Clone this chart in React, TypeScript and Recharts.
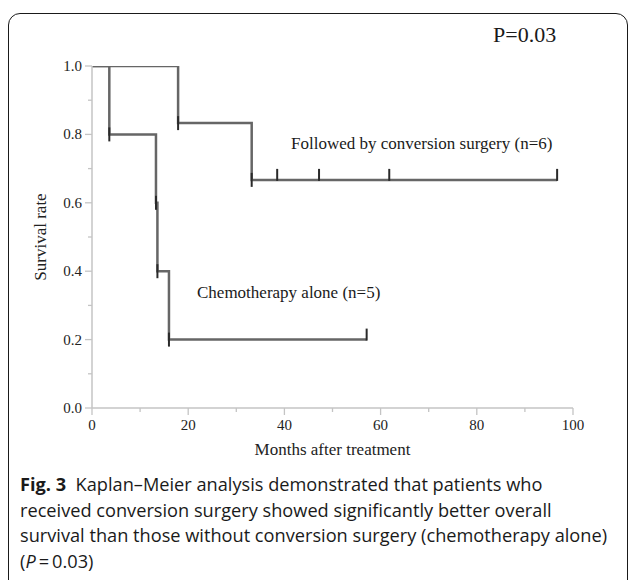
import { ComposedChart, Line, Scatter, XAxis, YAxis, Label } from "recharts";

// Kaplan-Meier step points (months, survival)
const chemoMonths = [0, 3.6, 13.3, 13.6, 16.0, 57.1];
const chemoSurvival = [1.0, 0.8, 0.6, 0.4, 0.2, 0.2];
const chemoStepMarks = [3.6, 13.3, 13.6, 16.0];
const chemoCensored = [57.1];

const surgeryMonths = [0, 17.9, 33.2, 96.7];
const surgerySurvival = [1.0, 0.833, 0.667, 0.667];
const surgeryStepMarks = [17.9, 33.2];
const surgeryCensored = [38.5, 47.2, 61.8, 96.7];

const xTicks = [0, 10, 20, 30, 40, 50, 60, 70, 80, 90, 100];
const yTicks = [0, 0.1, 0.2, 0.3, 0.4, 0.5, 0.6, 0.7, 0.8, 0.9, 1.0];

const chemoData = chemoMonths.map((t, i) => ({ t, s: chemoSurvival[i] }));
const surgeryData = surgeryMonths.map((t, i) => ({ t, s: surgerySurvival[i] }));

// survival value of a step curve at a given month
const survivalAt = (months: number[], surv: number[], t: number) => {
  let v = surv[0];
  months.forEach((m, i) => {
    if (m <= t) v = surv[i];
  });
  return v;
};

const marks = (times: number[], months: number[], surv: number[]) =>
  times.map((t) => ({ t, s: survivalAt(months, surv, t) }));

const serif = "'Liberation Serif', 'DejaVu Serif', serif";
const axisGrey = "#c4c4c4";
const curveGrey = "#666666";
const markColor = "#2a2a2a";

const XTick = (props: any) => {
  const { x, y, payload } = props;
  const major = Math.round(payload.value) % 20 === 0;
  return (
    <g>
      <line x1={x} x2={x} y1={y} y2={y + (major ? 7 : 4)} stroke={axisGrey} strokeWidth={1.3} />
      {major && (
        <text x={x} y={y + 22} textAnchor="middle" fontFamily={serif} fontSize={15} fill="#222">
          {payload.value}
        </text>
      )}
    </g>
  );
};

const YTick = (props: any) => {
  const { x, y, payload } = props;
  const major = Math.round(payload.value * 10) % 2 === 0;
  return (
    <g>
      <line x1={x} x2={x - (major ? 7 : 4)} y1={y} y2={y} stroke={axisGrey} strokeWidth={1.3} />
      {major && (
        <text x={x - 10} y={y + 5} textAnchor="end" fontFamily={serif} fontSize={15} fill="#222">
          {payload.value.toFixed(1)}
        </text>
      )}
    </g>
  );
};

const StepMark = (p: any) => (
  <line x1={p.cx} x2={p.cx} y1={p.cy - 7} y2={p.cy + 7} stroke={markColor} strokeWidth={2} />
);

const CensorMark = (p: any) => (
  <line x1={p.cx} x2={p.cx} y1={p.cy - 11} y2={p.cy + 1} stroke={markColor} strokeWidth={2} />
);

export default function App() {
  return (
    <div
      style={{
        position: "absolute",
        left: 0,
        top: 0,
        width: 629,
        height: 580,
        overflow: "hidden",
        background: "#fff",
      }}
    >
      <div
        style={{
          position: "absolute",
          left: 8,
          top: 13,
          width: 620,
          height: 640,
          border: "1.5px solid #1a1a1a",
          borderRadius: 12,
          boxSizing: "border-box",
        }}
      />
      <div
        style={{
          position: "absolute",
          left: 493,
          top: 22,
          fontFamily: serif,
          fontSize: 22,
          color: "#1a1a1a",
          whiteSpace: "nowrap",
        }}
      >
        P=0.03
      </div>

      <div style={{ position: "absolute", left: 0, top: 0 }}>
        <ComposedChart
          width={629}
          height={580}
          margin={{ top: 66, right: 56, bottom: 112, left: 0 }}
        >
          <XAxis
            type="number"
            dataKey="t"
            domain={[0, 100]}
            ticks={xTicks}
            interval={0}
            allowDataOverflow
            height={60}
            tickSize={0}
            tickMargin={0}
            tickLine={false}
            tick={<XTick />}
            axisLine={{ stroke: axisGrey, strokeWidth: 1.5 }}
          >
            <Label
              content={({ viewBox }: any) => (
                <text
                  x={viewBox.x + viewBox.width / 2}
                  y={viewBox.y + 47}
                  textAnchor="middle"
                  fontFamily={serif}
                  fontSize={17}
                  fill="#222"
                >
                  Months after treatment
                </text>
              )}
            />
          </XAxis>
          <YAxis
            type="number"
            domain={[0, 1]}
            ticks={yTicks}
            interval={0}
            allowDataOverflow
            width={92}
            tickSize={0}
            tickMargin={0}
            tickLine={false}
            tick={<YTick />}
            axisLine={{ stroke: axisGrey, strokeWidth: 1.5 }}
          >
            <Label
              content={({ viewBox }: any) => {
                const cx = viewBox.x + 46;
                const cy = viewBox.y + viewBox.height / 2;
                return (
                  <text
                    x={cx}
                    y={cy}
                    transform={`rotate(-90 ${cx} ${cy})`}
                    textAnchor="middle"
                    fontFamily={serif}
                    fontSize={17}
                    fill="#222"
                  >
                    Survival rate
                  </text>
                );
              }}
            />
          </YAxis>

          <Line
            data={surgeryData}
            dataKey="s"
            type="stepAfter"
            stroke={curveGrey}
            strokeWidth={2.5}
            dot={false}
            isAnimationActive={false}
          />
          <Line
            data={chemoData}
            dataKey="s"
            type="stepAfter"
            stroke={curveGrey}
            strokeWidth={2.5}
            dot={false}
            isAnimationActive={false}
          />
          <Scatter
            data={marks(surgeryStepMarks, surgeryMonths, surgerySurvival)}
            dataKey="s"
            shape={StepMark}
            isAnimationActive={false}
          />
          <Scatter
            data={marks(surgeryCensored, surgeryMonths, surgerySurvival)}
            dataKey="s"
            shape={CensorMark}
            isAnimationActive={false}
          />
          <Scatter
            data={marks(chemoStepMarks, chemoMonths, chemoSurvival)}
            dataKey="s"
            shape={StepMark}
            isAnimationActive={false}
          />
          <Scatter
            data={marks(chemoCensored, chemoMonths, chemoSurvival)}
            dataKey="s"
            shape={CensorMark}
            isAnimationActive={false}
          />
        </ComposedChart>
      </div>

      <div
        style={{
          position: "absolute",
          left: 291,
          top: 134,
          fontFamily: serif,
          fontSize: 17,
          color: "#1a1a1a",
          whiteSpace: "nowrap",
        }}
      >
        Followed by conversion surgery (n=6)
      </div>
      <div
        style={{
          position: "absolute",
          left: 197,
          top: 283,
          fontFamily: serif,
          fontSize: 17,
          color: "#1a1a1a",
          whiteSpace: "nowrap",
        }}
      >
        Chemotherapy alone (n=5)
      </div>

      <div
        style={{
          position: "absolute",
          left: 20,
          top: 472,
          width: 610,
          fontFamily: "'Open Sans', 'Noto Sans', sans-serif",
          fontSize: 18.2,
          lineHeight: "25.5px",
          color: "#1a1a1a",
          whiteSpace: "nowrap",
        }}
      >
        <b>Fig. 3</b>&nbsp; Kaplan–Meier analysis demonstrated that patients who
        <br />
        received conversion surgery showed significantly better overall
        <br />
        survival than those without conversion surgery (chemotherapy alone)
        <br />(<i>P</i>&thinsp;=&thinsp;0.03)
      </div>
    </div>
  );
}
